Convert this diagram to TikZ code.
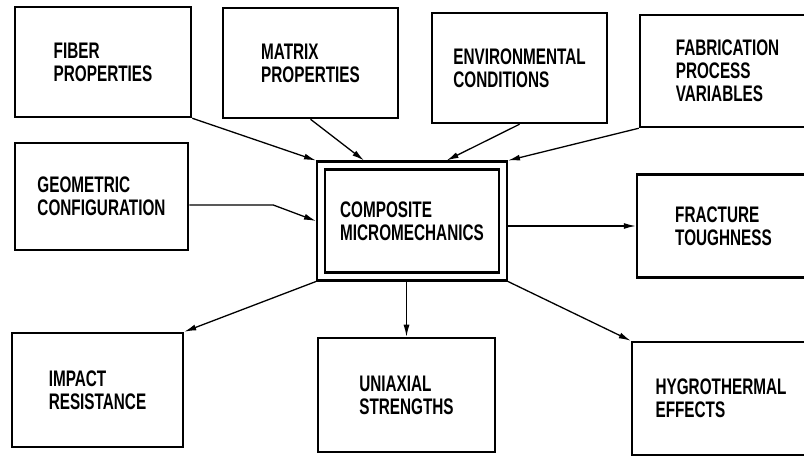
\documentclass[tikz,border=0pt]{standalone}
\usepackage{fontspec}
\setmainfont{Liberation Sans}[FakeStretch=0.68]
\usetikzlibrary{arrows.meta,calc}
\begin{document}
\begin{tikzpicture}[x=1pt,y=-1pt]
        \useasboundingbox (0,0) rectangle (804,457);
        \clip (0,0) rectangle (804,457);

        \begin{scope}[every node/.style={draw, line width=2.5pt, align=left,
            font=\bfseries\fontsize{22.5}{23}\selectfont, minimum width=175pt, minimum height=110pt}]
          \node (fiber)  at (103,62)     [minimum width=176pt] {FIBER\\PROPERTIES};
          \node (matrix) at (310.5,63)   {MATRIX\\PROPERTIES};
          \node (env)    at (519.5,68)   {ENVIRONMENTAL\\CONDITIONS};
          \node (fab)    at (727.5,71)   [minimum height=112pt] {FABRICATION\\PROCESS\\VARIABLES};
          \node (geom)   at (101.5,196.5) [minimum width=173pt, minimum height=107pt] {GEOMETRIC\\CONFIGURATION};
          \node (comp)   at (412,221)    [double, double distance=5.5pt, outer sep=5pt,
                                          minimum width=182pt, minimum height=111pt] {COMPOSITE\\MICROMECHANICS};
          \node (frac)   at (723.5,226)  [minimum width=173pt, minimum height=103pt] {FRACTURE\\TOUGHNESS};
          \node (impact) at (97.5,390)   [minimum width=171pt, minimum height=114pt] {IMPACT\\RESISTANCE};
          \node (uni)    at (406.5,395)  [minimum width=177pt, minimum height=114pt] {UNIAXIAL\\STRENGTHS};
          \node (hygro)  at (721,398.5)  [minimum width=178pt, minimum height=113pt] {HYGROTHERMAL\\EFFECTS};
        \end{scope}

        \begin{scope}[line width=1.3pt, -{Latex[length=12pt,width=6pt]}]
          % inputs
          \draw (fiber.south east) -- (comp.north west);
          \draw (matrix.south) -- ($(comp.north west)!0.25!(comp.north east)$);
          \draw (env.south) -- ($(comp.north west)!0.68!(comp.north east)$);
          \draw (fab.south west) -- (comp.north east);
          \draw ([yshift=-8.5pt]geom.east) -- ++(84,0) -- (comp.west);
          % outputs
          \draw (comp.east |- frac.west) -- (frac.west);
          \draw (comp.south west) -- (impact.north east);
          \draw (comp.south -| uni.north) -- (uni.north);
          \draw (comp.south east) -- (hygro.north west);
        \end{scope}

      \end{tikzpicture}
\end{document}
